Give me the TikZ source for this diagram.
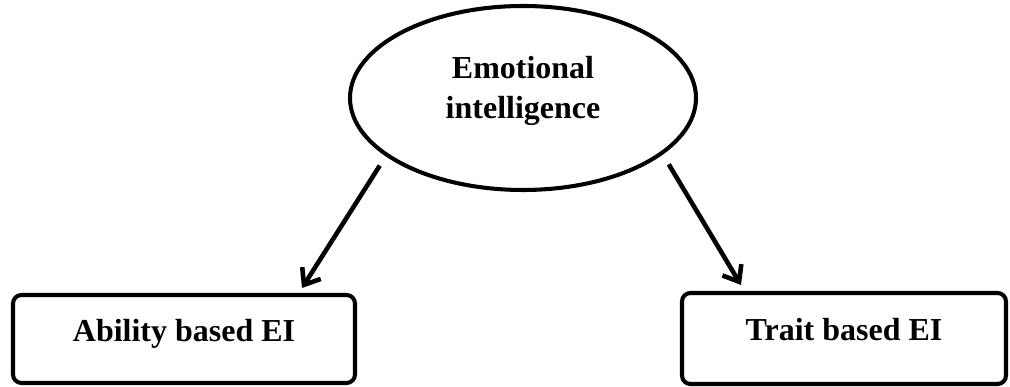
\documentclass[tikz,border=0pt]{standalone}
\usepackage{fontspec}
\setmainfont{Liberation Serif}
\usetikzlibrary{arrows.meta,shapes.geometric}
\begin{document}
\begin{tikzpicture}[
    outline/.style={draw=black,line width=2.3pt},
    labelfont/.style={font=\fontsize{18.2}{22.8}\selectfont\bfseries},
    eibox/.style={outline,labelfont,rounded corners=0.17cm,minimum width=6.84cm,
        minimum height=1.76cm,text height=0.45cm,text depth=0.35cm},
    branch/.style={line width=2.6pt,-{Straight Barb[length=0.28cm,width=0.44cm]}}
  ]
    \useasboundingbox (0,0) rectangle (20.2,7.74);
    \node[outline,ellipse,minimum width=6.92cm,minimum height=3.68cm]
        (ei) at (10.46,5.78) {};
    \node[labelfont,align=center] (eilabel) at ([yshift=0.15cm]ei.center)
        {Emotional\\intelligence};
    \node[eibox] (ability) at (3.68,0.96) {Ability based EI};
    \node[eibox,minimum width=6.48cm,minimum height=1.82cm]
        (trait) at (16.88,0.97) {Trait based EI};
    \draw[branch,shorten <=0.22cm] (ei.203)
        -- ([xshift=-1.1cm,yshift=0.1cm]ability.north east);
    \draw[branch,shorten <=0.23cm] (ei.338)
        -- ([xshift=1.22cm,yshift=0.12cm]trait.north west);
\end{tikzpicture}
\end{document}
